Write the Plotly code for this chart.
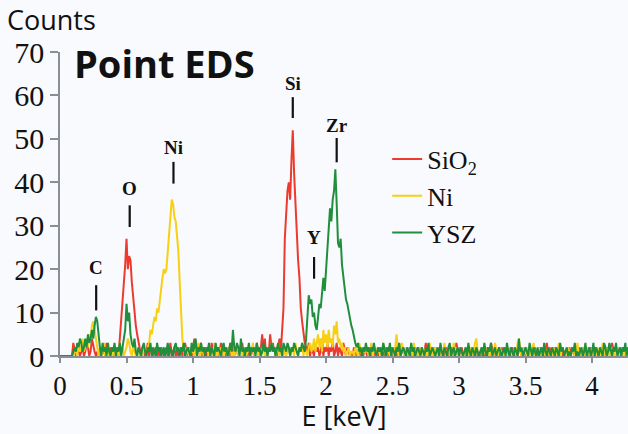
import numpy as np
import plotly.graph_objects as go

# Energy channels: 0.01 keV per channel, starting at 0 keV
E_STEP = 0.01

sio2_counts = [
    0, 0, 0, 0, 0, 0, 0, 0, 0, 0,
    3, 1, 0, 2, 1, 0, 1, 2, 0, 1,
    3, 2, 0, 1, 4, 2, 1, 0, 1, 0,
    1, 0, 2, 1, 0, 3, 1, 0, 2, 1,
    0, 2, 1, 0, 0, 4, 9, 14, 18, 21,
    27, 20, 23, 22, 17, 13, 10, 7, 5, 3,
    1, 0, 2, 1, 0, 1, 3, 0, 2, 1,
    0, 1, 2, 0, 1, 0, 2, 1, 0, 1,
    2, 0, 1, 3, 0, 1, 2, 0, 1, 0,
    1, 2, 0, 1, 3, 1, 0, 2, 1, 0,
    2, 4, 1, 0, 2, 1, 3, 0, 1, 2,
    0, 1, 2, 0, 3, 1, 0, 2, 1, 0,
    1, 3, 0, 2, 1, 0, 1, 2, 0, 3,
    1, 0, 2, 1, 0, 2, 1, 3, 0, 1,
    2, 0, 1, 0, 2, 1, 0, 1, 3, 0,
    1, 2, 5, 1, 4, 0, 2, 1, 5, 2,
    3, 1, 2, 0, 2, 4, 1, 5, 11, 27,
    34, 38, 40, 36, 45, 52, 42, 35, 28, 22,
    18, 11, 8, 5, 3, 2, 1, 3, 0, 2,
    1, 0, 3, 1, 2, 0, 1, 4, 0, 2,
    1, 3, 0, 2, 1, 4, 0, 1, 3, 0,
    2, 1, 0, 3, 1, 0, 2, 1, 0, 1,
    0, 2, 1, 0, 1, 2, 0, 1, 0, 2,
    1, 0, 2, 1, 0, 1, 2, 0, 1, 0,
    2, 1, 0, 1, 0, 2, 1, 0, 2, 1,
    0, 1, 2, 0, 3, 1, 0, 1, 2, 0,
    1, 0, 1, 2, 0, 1, 0, 2, 1, 0,
    0, 2, 1, 0, 1, 3, 0, 1, 0, 2,
    1, 0, 2, 1, 0, 1, 2, 0, 1, 0,
    2, 1, 0, 1, 2, 0, 1, 0, 3, 1,
    0, 1, 2, 0, 1, 0, 2, 1, 0, 1,
    1, 0, 1, 2, 0, 1, 0, 1, 2, 0,
    0, 2, 1, 0, 3, 1, 0, 2, 1, 0,
    1, 0, 2, 1, 0, 1, 2, 0, 1, 0,
    2, 1, 0, 1, 0, 2, 1, 0, 1, 2,
    0, 1, 0, 2, 1, 0, 1, 2, 0, 1,
    1, 2, 0, 1, 0, 1, 3, 0, 2, 1,
    0, 1, 2, 0, 1, 0, 1, 2, 0, 1,
    1, 0, 1, 2, 0, 2, 1, 0, 1, 0,
    2, 1, 0, 1, 0, 1, 2, 0, 1, 2,
    0, 1, 2, 0, 1, 0, 1, 2, 0, 1,
    1, 0, 2, 1, 0, 3, 1, 0, 1, 2,
    0, 1, 0, 2, 1, 0, 1, 2, 0, 1,
]

ni_counts = [
    0, 0, 0, 0, 0, 0, 0, 0, 0, 0,
    0, 2, 1, 0, 3, 1, 2, 4, 1, 2,
    3, 2, 5, 4, 7, 8, 6, 3, 1, 0,
    2, 0, 1, 3, 0, 1, 2, 0, 1, 0,
    1, 0, 2, 1, 0, 3, 1, 2, 0, 1,
    2, 4, 3, 1, 0, 2, 1, 0, 1, 2,
    0, 1, 0, 2, 1, 0, 2, 3, 6, 5,
    7, 9, 8, 11, 10, 13, 16, 18, 20, 19,
    20, 24, 30, 33, 36, 35, 32, 31, 28, 24,
    17, 10, 4, 1, 0, 2, 1, 0, 2, 1,
    1, 0, 2, 1, 3, 0, 1, 2, 0, 1,
    2, 1, 0, 1, 2, 0, 3, 1, 0, 2,
    0, 2, 1, 0, 1, 2, 0, 1, 3, 0,
    1, 0, 2, 1, 0, 1, 2, 0, 1, 2,
    0, 1, 2, 0, 1, 3, 0, 1, 2, 0,
    2, 0, 1, 2, 0, 1, 0, 2, 1, 3,
    1, 2, 0, 1, 3, 0, 2, 1, 0, 2,
    0, 1, 2, 0, 1, 2, 0, 3, 1, 0,
    2, 1, 3, 0, 2, 1, 0, 2, 3, 1,
    2, 4, 1, 3, 5, 2, 4, 1, 6, 3,
    5, 2, 6, 3, 4, 2, 7, 5, 8, 3,
    4, 2, 3, 1, 2, 0, 1, 2, 0, 1,
    1, 0, 2, 1, 0, 3, 1, 0, 2, 1,
    1, 2, 0, 1, 3, 0, 1, 2, 0, 1,
    2, 0, 1, 3, 1, 0, 2, 1, 0, 2,
    1, 0, 2, 5, 1, 0, 2, 3, 1, 0,
    2, 1, 0, 1, 2, 0, 3, 1, 0, 1,
    0, 2, 1, 0, 1, 2, 0, 1, 3, 0,
    1, 0, 2, 1, 0, 1, 2, 0, 1, 3,
    0, 1, 2, 0, 1, 0, 3, 1, 2, 0,
    1, 2, 0, 1, 0, 2, 1, 0, 1, 2,
    0, 1, 3, 4, 1, 0, 1, 2, 0, 1,
    2, 0, 1, 0, 2, 1, 0, 3, 1, 0,
    1, 2, 0, 1, 0, 2, 1, 0, 2, 1,
    0, 1, 2, 0, 3, 4, 1, 0, 1, 2,
    1, 0, 2, 1, 0, 1, 3, 0, 1, 0,
    2, 1, 0, 2, 1, 0, 1, 2, 0, 1,
    0, 2, 1, 0, 1, 3, 0, 1, 2, 0,
    1, 0, 2, 1, 0, 1, 2, 0, 1, 3,
    0, 1, 0, 2, 1, 0, 1, 2, 0, 1,
    2, 0, 1, 0, 2, 1, 0, 1, 3, 0,
    1, 2, 0, 1, 0, 2, 1, 0, 1, 2,
    0, 1, 2, 0, 1, 0, 2, 1, 0, 1,
]

ysz_counts = [
    0, 0, 0, 0, 0, 0, 0, 0, 0, 0,
    1, 2, 1, 3, 2, 4, 3, 1, 2, 4,
    2, 5, 3, 4, 6, 4, 7, 9, 8, 4,
    2, 0, 3, 1, 2, 0, 3, 1, 0, 2,
    1, 3, 0, 2, 1, 3, 0, 2, 4, 6,
    12, 8, 10, 5, 3, 2, 4, 1, 0, 2,
    1, 0, 2, 3, 1, 0, 2, 1, 3, 0,
    2, 1, 0, 3, 1, 2, 0, 1, 2, 0,
    1, 3, 0, 2, 1, 0, 2, 3, 1, 2,
    0, 2, 1, 3, 0, 1, 2, 1, 0, 3,
    1, 2, 4, 0, 2, 1, 3, 1, 2, 0,
    2, 1, 3, 0, 2, 1, 0, 3, 1, 2,
    1, 0, 2, 3, 1, 2, 0, 1, 3, 1,
    6, 2, 1, 3, 2, 0, 4, 1, 2, 0,
    2, 1, 3, 0, 2, 1, 2, 0, 3, 1,
    2, 0, 1, 3, 1, 2, 0, 2, 1, 3,
    1, 2, 0, 2, 3, 1, 2, 0, 3, 2,
    1, 3, 2, 0, 2, 1, 3, 2, 1, 0,
    2, 1, 3, 2, 1, 4, 10, 14, 12, 13,
    9, 10, 7, 6, 9, 12, 11, 14, 18, 15,
    20, 26, 30, 34, 31, 36, 38, 43, 35, 26,
    25, 27, 21, 18, 15, 13, 12, 10, 9, 7,
    6, 4, 3, 2, 3, 1, 2, 0, 2, 1,
    3, 1, 2, 0, 2, 1, 3, 1, 0, 2,
    1, 2, 0, 3, 1, 0, 2, 1, 3, 0,
    2, 1, 0, 2, 1, 3, 0, 1, 2, 1,
    0, 2, 1, 0, 3, 1, 2, 0, 1, 2,
    1, 0, 2, 1, 0, 2, 1, 3, 0, 1,
    2, 1, 0, 1, 2, 0, 3, 1, 0, 2,
    1, 0, 2, 3, 0, 1, 2, 0, 1, 2,
    0, 2, 1, 0, 1, 2, 0, 3, 1, 0,
    2, 1, 0, 2, 1, 0, 1, 2, 0, 3,
    1, 0, 2, 1, 3, 0, 1, 2, 0, 1,
    2, 1, 0, 1, 2, 0, 3, 1, 0, 2,
    1, 0, 2, 1, 0, 4, 1, 2, 0, 1,
    2, 1, 0, 3, 1, 0, 2, 1, 0, 2,
    0, 1, 2, 0, 3, 1, 0, 2, 1, 0,
    2, 1, 0, 2, 1, 0, 3, 1, 2, 0,
    1, 2, 0, 1, 0, 2, 1, 3, 0, 1,
    0, 1, 2, 0, 1, 3, 0, 1, 2, 0,
    1, 3, 0, 2, 1, 0, 2, 1, 0, 3,
    2, 0, 1, 3, 1, 0, 2, 1, 3, 0,
    1, 2, 0, 2, 1, 3, 0, 2, 1, 0,
]

series_names = ["SiO<sub>2</sub>", "Ni", "YSZ"]
series_colors = ["#ec3b2e", "#f8cf12", "#1f8f3c"]

# Element peak markers: energy (keV), tick bottom/top and label height (counts)
peak_labels = ["C", "O", "Ni", "Si", "Y", "Zr"]
peak_energy = [0.272, 0.524, 0.853, 1.750, 1.910, 2.080]
peak_tick_lo = [10.5, 29.7, 39.7, 54.8, 17.8, 44.6]
peak_tick_hi = [16.3, 34.7, 44.7, 59.6, 22.8, 50.2]
peak_text_y = [20.4, 38.6, 47.9, 62.7, 27.2, 53.1]

x_ticks = [0, 0.5, 1, 1.5, 2, 2.5, 3, 3.5, 4]
x_tick_text = ["0", "0.5", "1", "1.5", "2", "2.5", "3", "3.5", "4"]
y_ticks = [0, 10, 20, 30, 40, 50, 60, 70]

energy = np.round(np.arange(len(sio2_counts)) * E_STEP, 2)

fig = go.Figure()
for i, (name, counts, color) in enumerate(zip(series_names, [sio2_counts, ni_counts, ysz_counts], series_colors)):
    fig.add_trace(go.Scatter(
        x=energy, y=counts, mode="lines", name=name,
        line=dict(color=color, width=2),
        legendgroup=f"g{i}",
    ))

serif = "Liberation Serif, Times New Roman, serif"
sans = "Open Sans, sans-serif"

for lab, e, lo, hi, ty in zip(peak_labels, peak_energy, peak_tick_lo, peak_tick_hi, peak_text_y):
    fig.add_shape(type="line", xref="x", yref="y", x0=e, x1=e, y0=lo, y1=hi,
                  line=dict(color="#111111", width=2.2))
    fig.add_annotation(x=e, y=ty, xref="x", yref="y", text=f"<b>{lab}</b>",
                       showarrow=False, font=dict(family=serif, size=19, color="#111111"))

fig.add_annotation(x=-0.097, y=1.04, xref="paper", yref="paper", xanchor="left", yanchor="bottom",
                   text="Counts", showarrow=False, font=dict(family=sans, size=27, color="#111111"))
fig.add_annotation(x=0.022, y=1.057, xref="paper", yref="paper", xanchor="left", yanchor="top",
                   text="<b>Point EDS</b>", showarrow=False,
                   font=dict(family=sans, size=38, color="#111111"))

fig.update_layout(
    width=628, height=434,
    margin=dict(l=60, r=0, t=52, b=78),
    paper_bgcolor="#f8fafd",
    plot_bgcolor="#f8fafd",
    showlegend=True,
    legend=dict(x=0.576, y=0.725, xanchor="left", yanchor="top",
                bgcolor="rgba(0,0,0,0)", font=dict(family=serif, size=26, color="#111111"),
                tracegroupgap=12, itemwidth=30, traceorder="normal"),
    xaxis=dict(range=[0, 4.27], tickvals=x_ticks, ticktext=x_tick_text,
               showgrid=False, zeroline=False, showline=True, linecolor="#8a8f96", linewidth=1.5,
               ticks="outside", ticklen=5, tickcolor="#8a8f96", tickwidth=1.5,
               tickfont=dict(family=serif, size=27, color="#111111"),
               title=dict(text="E [keV]", font=dict(family=sans, size=27, color="#111111"), standoff=5)),
    yaxis=dict(range=[0, 70], tickvals=y_ticks,
               showgrid=False, zeroline=False, showline=True, linecolor="#8a8f96", linewidth=1.5,
               ticks="outside", ticklen=8, tickcolor="#8a8f96", tickwidth=1.5,
               tickfont=dict(family=serif, size=30, color="#111111")),
)

fig.write_html("out.html")
